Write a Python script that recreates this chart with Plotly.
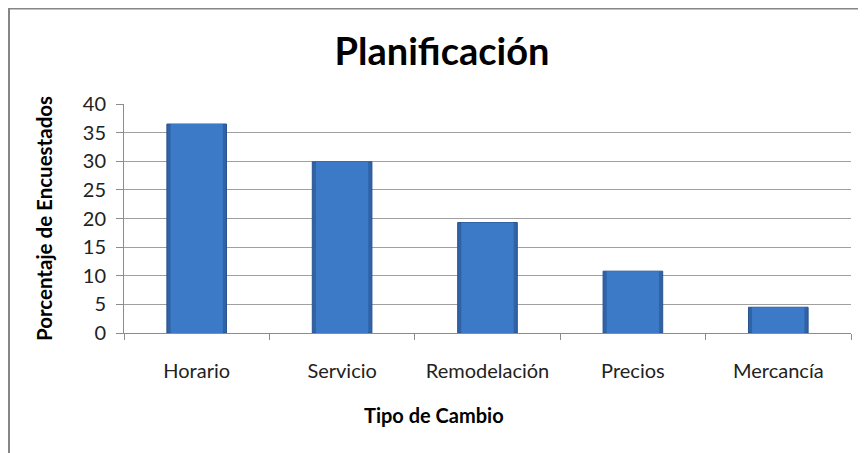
import plotly.graph_objects as go

categories = ["Horario", "Servicio", "Remodelación", "Precios", "Mercancía"]
values = [36.5, 29.9, 19.3, 10.8, 4.5]
y_ticks = [0, 5, 10, 15, 20, 25, 30, 35, 40]

FONT = "Lato, 'Open Sans', sans-serif"

fig = go.Figure()
# outer (darker) body of each bar
fig.add_trace(go.Bar(
    x=categories, y=values,
    marker=dict(color="#2f62a6", line=dict(color="#28538c", width=1)),
    width=0.41, hoverinfo="skip",
))
# inner lighter face to give a bevelled look
fig.add_trace(go.Bar(
    x=categories, y=values,
    marker=dict(color="#3c7ac8", line=dict(width=0)),
    width=0.36, hoverinfo="x+y",
))

fig.update_layout(
    width=866, height=453,
    barmode="overlay",
    margin=dict(l=116, r=23, t=96, b=128),
    paper_bgcolor="white", plot_bgcolor="white",
    showlegend=False,
    title=dict(text="<b>Planificación</b>", font=dict(family=FONT, size=38, color="#000"),
               x=434/866, xanchor="center", xref="container",
               y=1-44/453, yanchor="middle", yref="container"),
    font=dict(family=FONT, color="#000"),
    annotations=[dict(
        text="<b>Tipo de Cambio</b>", xref="paper", yref="paper",
        x=(426-116)/727, y=(325-407)/229, xanchor="center", yanchor="middle",
        showarrow=False, font=dict(size=20, family=FONT, color="#000"),
    )],
)

fig.update_xaxes(
    showline=True, linecolor="#8c8c8c", linewidth=1,
    ticks="outside", tickson="boundaries", ticklen=6, tickcolor="#8c8c8c",
    tickfont=dict(size=20, family=FONT, color="#222"),
    ticklabelstandoff=20,
    showgrid=False,
)
fig.update_yaxes(
    range=[0, 40], tickvals=y_ticks,
    showline=True, linecolor="#8c8c8c", linewidth=1,
    ticks="outside", ticklen=7, tickcolor="#8c8c8c",
    showgrid=True, gridcolor="#a0a0a0", gridwidth=1,
    tickfont=dict(size=20, family=FONT, color="#222"),
    ticklabelstandoff=6,
    title=dict(text="<b>Porcentaje de Encuestados</b>", font=dict(size=20.5, family=FONT, color="#000"), standoff=24),
    zeroline=False,
)

# outer chart border
fig.add_shape(type="rect", xref="paper", yref="paper",
              x0=(1-116)/727, x1=(880-116)/727,
              y0=(325-470)/229, y1=(325-0.5)/229,
              line=dict(color="#868686", width=2), fillcolor="rgba(0,0,0,0)", layer="below")

fig.write_html("out.html")
